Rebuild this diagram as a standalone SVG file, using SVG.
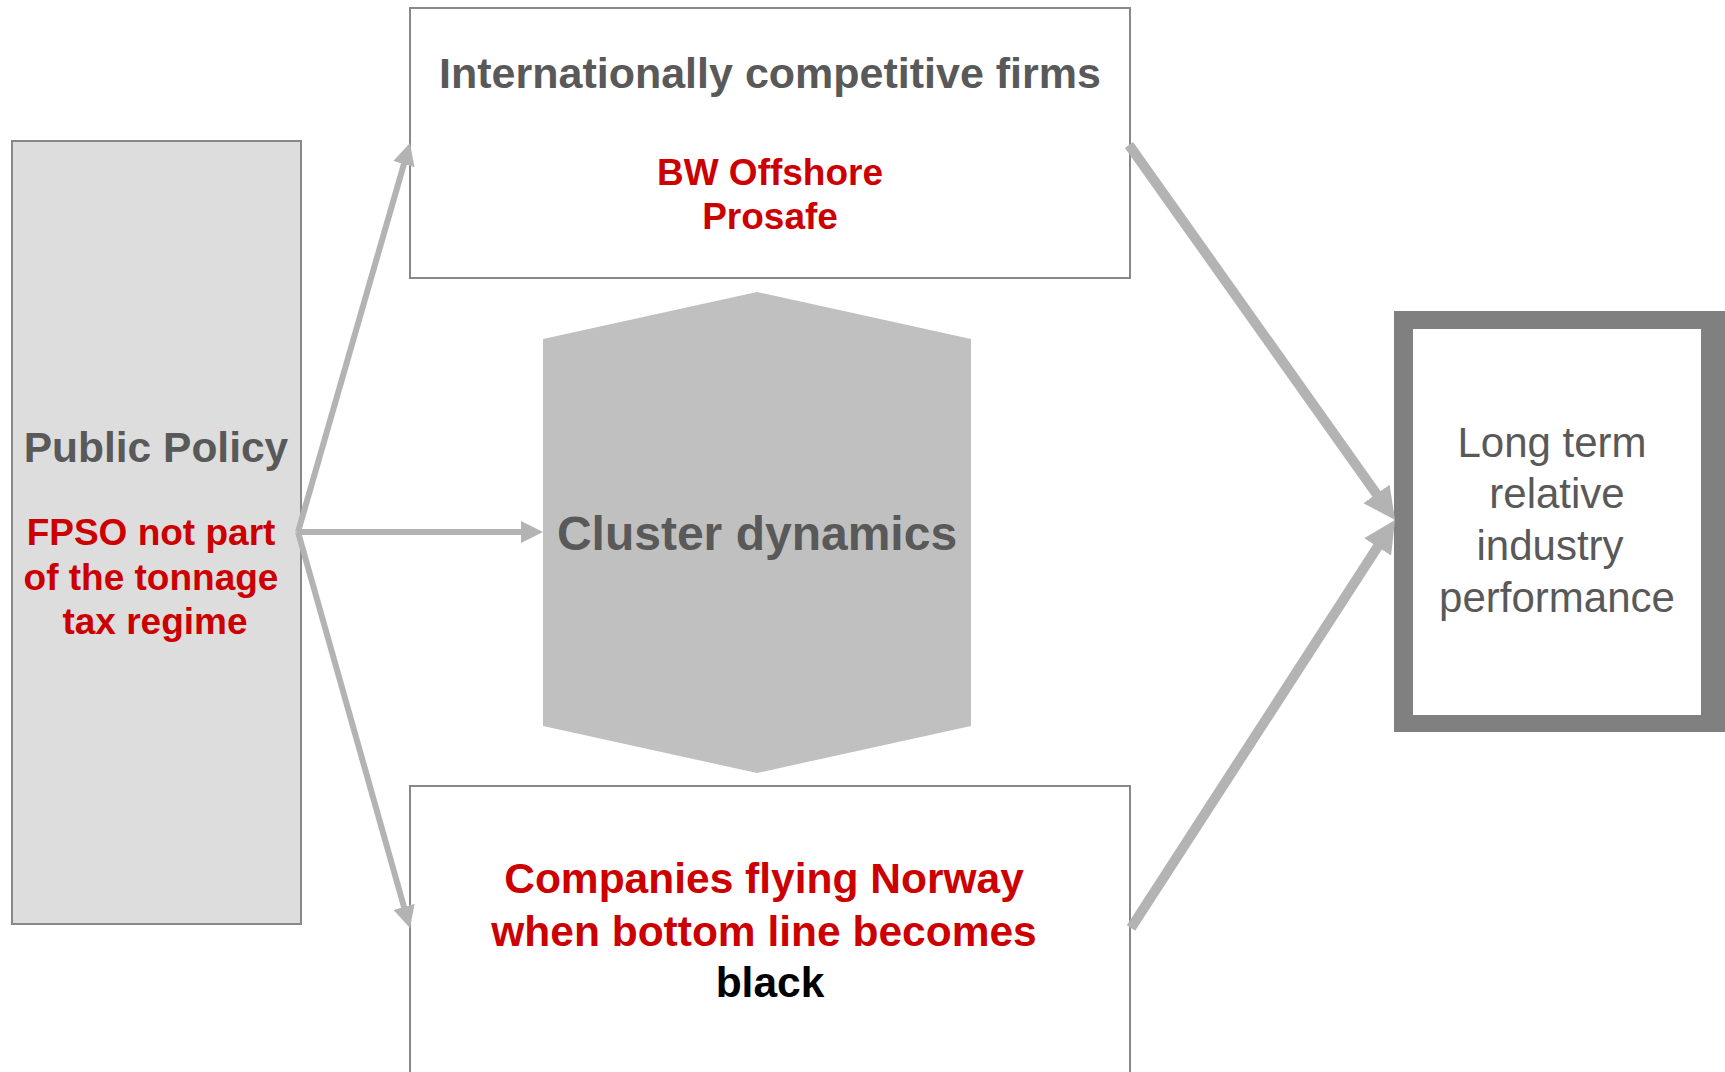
<svg xmlns="http://www.w3.org/2000/svg" width="1725" height="1072" viewBox="0 0 1725 1072">
<style>
.box{fill:#ffffff;stroke:#888888;stroke-width:2}
.b{font-family:"Liberation Sans",Arial,sans-serif;font-weight:bold;text-anchor:middle}
.r{font-family:"Liberation Sans",Arial,sans-serif;text-anchor:middle}
.gray{fill:#595959}
.red{fill:#cc0000}
.blk{fill:#000000}
.thin{stroke:#b3b3b3;stroke-width:6;fill:none}
.thick{stroke:#b3b3b3;stroke-width:10;fill:none}
</style>
<defs>
<marker id="ahS" markerUnits="userSpaceOnUse" viewBox="0 0 22 22" markerWidth="22" markerHeight="22" refX="4" refY="11" orient="auto">
<path d="M0,0 L22,11 L0,22 z" fill="#b3b3b3"/>
</marker>
<marker id="ahL" markerUnits="userSpaceOnUse" viewBox="0 0 32 32" markerWidth="32" markerHeight="32" refX="6" refY="16" orient="auto">
<path d="M0,0 L32,16 L0,32 z" fill="#b3b3b3"/>
</marker>
</defs>
<rect width="1725" height="1072" fill="#ffffff"/>

<g id="public-policy">
<rect x="12" y="141" width="289" height="783" fill="#dddddd" stroke="#888888" stroke-width="2"/>
<text class="b gray" x="156" y="462" font-size="42.5">Public Policy</text>
<text class="b red" font-size="37"><tspan x="151" y="545">FPSO not part</tspan><tspan x="151" y="590">of the tonnage</tspan><tspan x="155" y="634">tax regime</tspan></text>
</g>

<g id="competitive-firms">
<rect class="box" x="410" y="8" width="720" height="270"/>
<text class="b gray" x="770" y="88" font-size="43">Internationally competitive firms</text>
<text class="b red" font-size="37"><tspan x="770" y="185">BW Offshore</tspan><tspan x="770" y="229">Prosafe</tspan></text>
</g>

<g id="cluster-dynamics">
<polygon points="757,292 971,339 971,726 757,773 543,726 543,339" fill="#c0c0c0"/>
<text class="b gray" x="757" y="550" font-size="48">Cluster dynamics</text>
</g>

<g id="companies-flying">
<rect class="box" x="410" y="786" width="720" height="300"/>
<text class="b red" font-size="42.5"><tspan x="764" y="893">Companies flying Norway</tspan><tspan x="764" y="946">when bottom line becomes</tspan></text>
<text class="b blk" x="770" y="997" font-size="42.5">black</text>
</g>

<g id="long-term">
<rect x="1394" y="311" width="340" height="421" fill="#808080"/>
<rect x="1413" y="329" width="288" height="386" fill="#ffffff"/>
<text class="r gray" font-size="42"><tspan x="1552" y="457">Long term</tspan><tspan x="1557" y="508">relative</tspan><tspan x="1550" y="560">industry</tspan><tspan x="1557" y="612">performance</tspan></text>
</g>

<g id="connectors">
<line class="thin" x1="298" y1="532" x2="405" y2="160.3" marker-end="url(#ahS)"/>
<line class="thin" x1="298" y1="532" x2="525" y2="532" marker-end="url(#ahS)"/>
<line class="thin" x1="298" y1="532" x2="405.1" y2="910.7" marker-end="url(#ahS)"/>
<line class="thick" x1="1129" y1="145" x2="1380" y2="498.8" marker-end="url(#ahL)"/>
<line class="thick" x1="1131" y1="928" x2="1380.9" y2="541.8" marker-end="url(#ahL)"/>
</g>
</svg>
